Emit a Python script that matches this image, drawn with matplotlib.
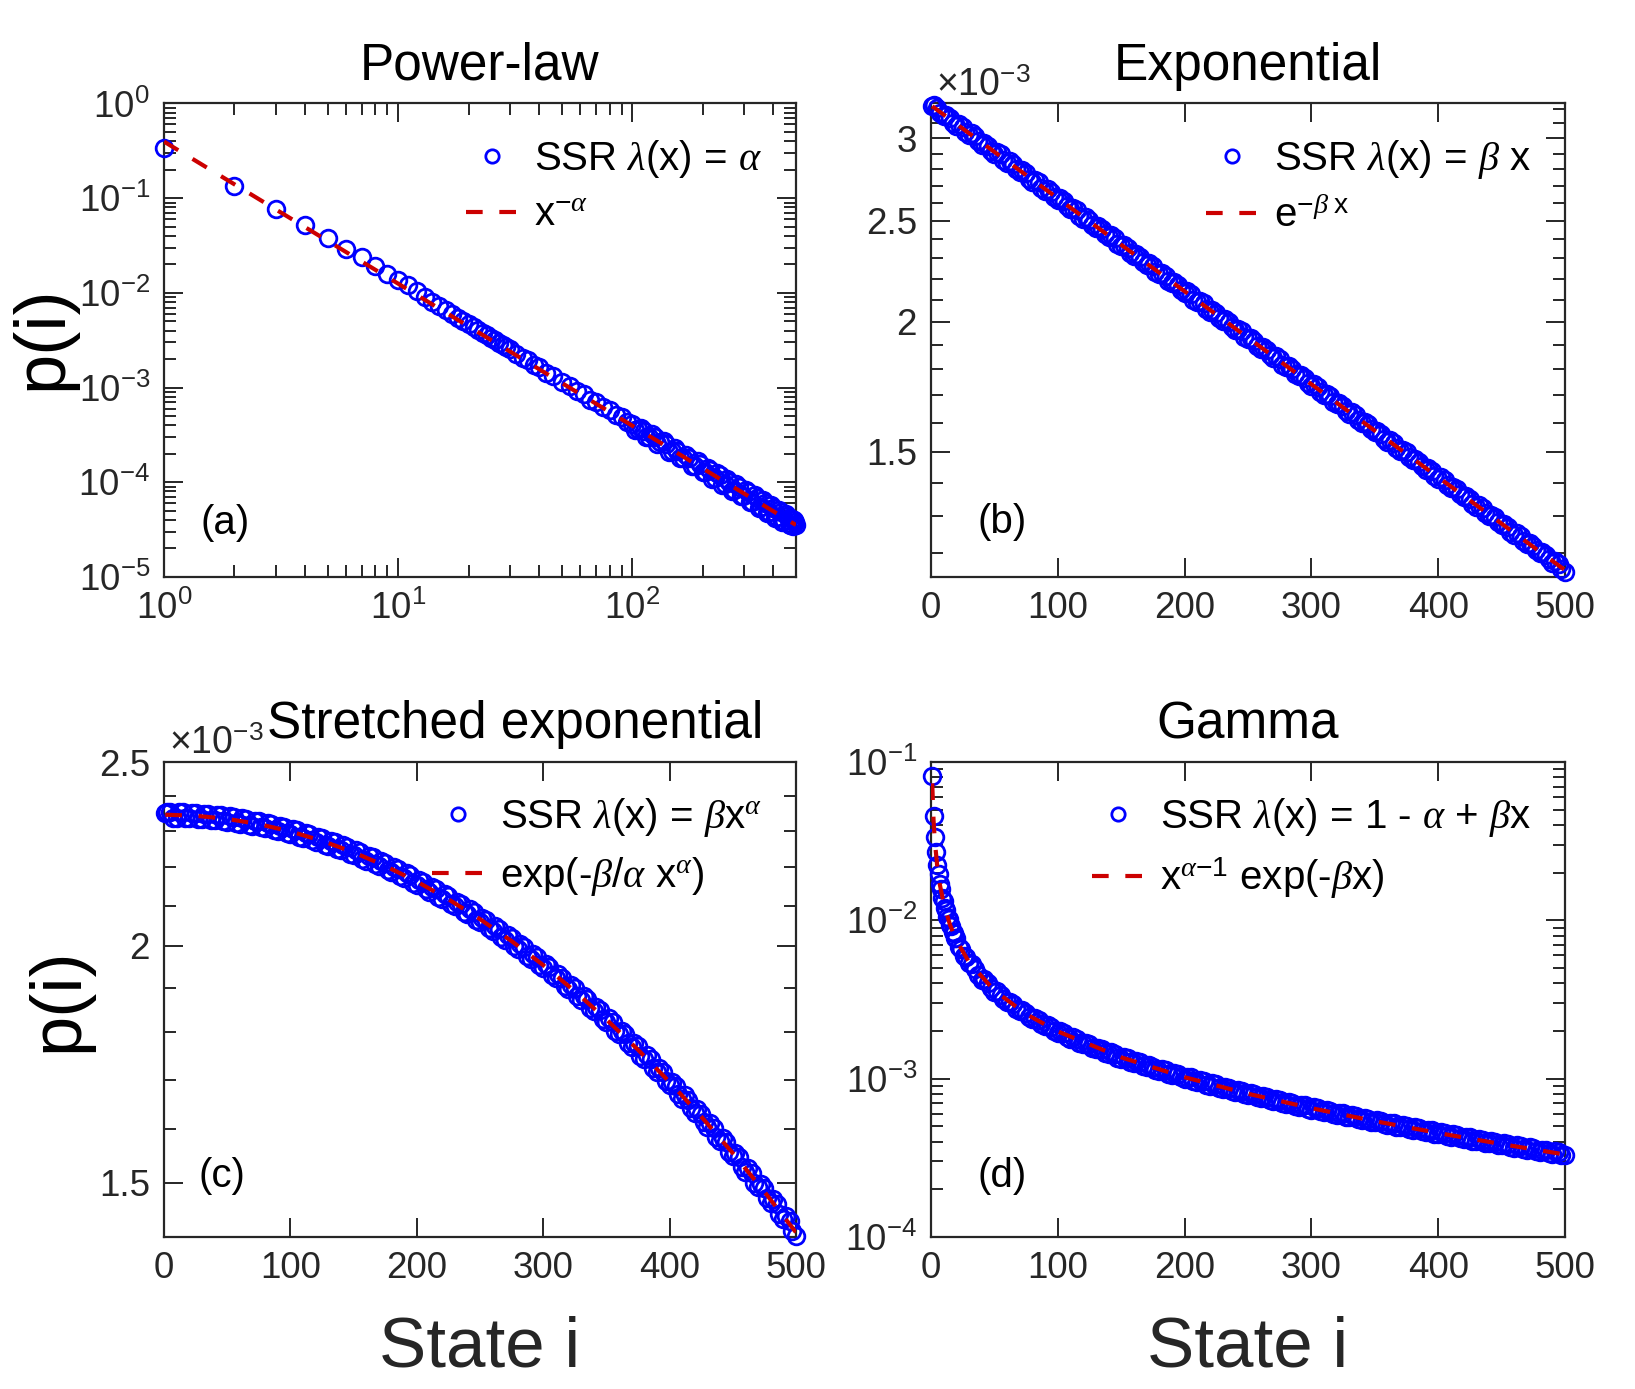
import matplotlib
matplotlib.use("Agg")
import matplotlib.pyplot as plt
from matplotlib.ticker import FixedLocator, FixedFormatter, NullFormatter, LogLocator

plt.rcParams['font.family'] = ['Liberation Sans', 'DejaVu Sans']
plt.rcParams['mathtext.fontset'] = 'custom'
plt.rcParams['mathtext.rm'] = 'Liberation Sans'
plt.rcParams['mathtext.it'] = 'Liberation Serif:italic'
plt.rcParams['mathtext.bf'] = 'Liberation Sans:bold'

# ---- (a) power law: SSR samples ----
a_x = [1, 2, 3, 4, 5, 6, 7, 8, 9, 10, 11, 12, 13, 14, 15, 16, 17, 18, 19, 20,
       21, 22, 23, 24, 25, 26, 27, 28, 29, 30, 32, 34, 36, 38, 40, 43, 46, 50,
       54, 58, 62, 66, 70, 75, 80, 85, 90, 95, 100, 106, 112, 118, 125, 132,
       140, 148, 156, 165, 175, 185, 195, 205, 215, 225, 236, 248, 260, 272,
       285, 298, 312, 326, 340, 355, 370, 385, 400, 415, 430, 445, 460, 465,
       475, 485, 490, 495, 500]
a_y = [0.336, 0.135, 0.0768, 0.052, 0.0376, 0.029, 0.0237, 0.0193, 0.016, 0.0137,
       0.012, 0.0104, 0.00896, 0.00801, 0.00722, 0.00655, 0.00598, 0.00549, 0.00506, 0.00468,
       0.00435, 0.00405, 0.00379, 0.00356, 0.00334, 0.00315, 0.00298, 0.00282, 0.00267, 0.00254,
       0.00229, 0.00205, 0.00194, 0.00172, 0.00166, 0.00143, 0.00134, 0.00114,
       0.00105, 0.000915, 0.000852, 0.000748, 0.000708, 0.000618, 0.000578, 0.000510, 0.000486,
       0.000432, 0.000411, 0.000366, 0.000352, 0.000304, 0.000301, 0.000266,
       0.000252, 0.000212, 0.000216, 0.000181, 0.000182, 0.000150, 0.000156, 0.000128,
       0.000134, 0.000111, 0.000118, 9.55e-5, 1.01e-4, 8.30e-5,
       8.89e-5, 7.20e-5, 7.82e-5, 6.25e-5, 6.83e-5, 5.45e-5, 6.01e-5, 4.86e-5, 5.38e-5, 4.32e-5,
       4.84e-5, 3.90e-5, 4.36e-5, 4.19e-5,
       3.57e-5, 3.45e-5, 3.98e-5, 3.85e-5, 3.50e-5]
# more samples in the crowded tail
a_x2 = [103, 109, 115, 121, 128, 136, 144, 152, 160, 170, 180, 190, 200, 210, 220, 230,
        242, 254, 266, 278, 291, 305, 319, 333, 347, 362, 377, 392, 407, 422, 437, 452,
        470, 480]
a_y2 = [3.56e-4, 3.72e-4, 2.99e-4, 3.21e-4, 2.54e-4, 2.70e-4, 2.11e-4, 2.30e-4, 1.80e-4,
        1.95e-4, 1.49e-4, 1.66e-4, 1.27e-4, 1.43e-4, 1.09e-4, 1.25e-4,
        9.47e-5, 1.086e-4, 8.12e-5, 9.48e-5, 7.10e-5, 8.25e-5, 6.19e-5, 7.30e-5, 5.39e-5,
        6.44e-5, 4.76e-5, 5.71e-5, 4.24e-5, 5.12e-5, 3.81e-5, 4.62e-5, 3.50e-5, 4.14e-5]
a_fit_x = [1, 500]
a_fit_y = [0.396, 3.542e-5]

# ---- (b) exponential (values in units of 1e-3) ----
b_x = [1] + list(range(5, 501, 5))
b_y = [3.220,
       3.206, 3.149, 3.139, 3.081, 3.079, 3.024, 3.015, 2.958, 2.951, 2.900,
       2.895, 2.841, 2.835, 2.783, 2.777, 2.725, 2.722, 2.672, 2.665, 2.616,
       2.611, 2.563, 2.558, 2.511, 2.506, 2.460, 2.455, 2.410, 2.404, 2.362,
       2.356, 2.314, 2.308, 2.266, 2.261, 2.220, 2.214, 2.176, 2.169, 2.131,
       2.125, 2.088, 2.082, 2.045, 2.040, 2.003, 1.998, 1.963, 1.957, 1.923,
       1.917, 1.884, 1.879, 1.845, 1.840, 1.808, 1.802, 1.772, 1.766, 1.736,
       1.730, 1.700, 1.695, 1.666, 1.660, 1.631, 1.627, 1.598, 1.594, 1.566,
       1.560, 1.534, 1.529, 1.503, 1.498, 1.472, 1.467, 1.442, 1.438, 1.413,
       1.408, 1.384, 1.380, 1.356, 1.352, 1.328, 1.324, 1.301, 1.297, 1.275,
       1.270, 1.249, 1.245, 1.224, 1.219, 1.199, 1.194, 1.174, 1.170, 1.150]
b_x2 = list(range(2, 501, 5))
b_y2 = [3.226, 3.169, 3.160, 3.104, 3.096, 3.041, 3.033, 2.979, 2.971, 2.919,
        2.911, 2.859, 2.852, 2.800, 2.794, 2.744, 2.737, 2.688, 2.681, 2.633,
        2.627, 2.580, 2.573, 2.527, 2.521, 2.476, 2.470, 2.425, 2.420, 2.376,
        2.370, 2.328, 2.322, 2.281, 2.275, 2.234, 2.228, 2.189, 2.183, 2.144,
        2.138, 2.100, 2.095, 2.058, 2.052, 2.016, 2.010, 1.975, 1.969, 1.935,
        1.929, 1.896, 1.890, 1.857, 1.852, 1.819, 1.814, 1.782, 1.777, 1.746,
        1.741, 1.711, 1.705, 1.676, 1.671, 1.642, 1.637, 1.608, 1.603, 1.576,
        1.571, 1.544, 1.538, 1.513, 1.507, 1.482, 1.476, 1.452, 1.446, 1.422,
        1.417, 1.393, 1.388, 1.365, 1.360, 1.337, 1.332, 1.310, 1.305, 1.283,
        1.278, 1.257, 1.252, 1.232, 1.227, 1.206, 1.202, 1.182, 1.177, 1.158]
b_fit_x = [1, 500]
b_fit_y = [3.220, 1.1543]

# ---- (c) stretched exponential (units of 1e-3) ----
c_x = [1] + list(range(5, 501, 5))
c_y = [2.350,
       2.352, 2.337, 2.352, 2.335, 2.350, 2.333, 2.347, 2.329, 2.343, 2.325,
       2.339, 2.320, 2.333, 2.314, 2.326, 2.307, 2.319, 2.299, 2.310, 2.290,
       2.301, 2.280, 2.291, 2.269, 2.280, 2.258, 2.268, 2.246, 2.255, 2.232,
       2.241, 2.218, 2.227, 2.203, 2.212, 2.188, 2.196, 2.171, 2.179, 2.154,
       2.161, 2.136, 2.143, 2.118, 2.124, 2.098, 2.104, 2.078, 2.084, 2.058,
       2.063, 2.036, 2.042, 2.015, 2.019, 1.992, 1.997, 1.969, 1.973, 1.946,
       1.949, 1.922, 1.924, 1.898, 1.900, 1.873, 1.874, 1.848, 1.849, 1.822,
       1.823, 1.796, 1.797, 1.769, 1.770, 1.742, 1.743, 1.715, 1.716, 1.689,
       1.687, 1.661, 1.659, 1.633, 1.631, 1.605, 1.603, 1.577, 1.575, 1.549,
       1.547, 1.520, 1.518, 1.492, 1.490, 1.463, 1.461, 1.435, 1.432, 1.406]
c_x2 = list(range(2, 501, 5))
c_y2 = [2.353, 2.337, 2.352, 2.336, 2.351, 2.334, 2.348, 2.331, 2.345, 2.327,
        2.340, 2.322, 2.335, 2.316, 2.328, 2.309, 2.321, 2.301, 2.313, 2.293,
        2.304, 2.283, 2.294, 2.273, 2.283, 2.261, 2.271, 2.249, 2.259, 2.236,
        2.246, 2.223, 2.231, 2.208, 2.216, 2.193, 2.201, 2.176, 2.184, 2.159,
        2.167, 2.142, 2.149, 2.123, 2.130, 2.104, 2.110, 2.084, 2.090, 2.064,
        2.069, 2.043, 2.048, 2.021, 2.026, 1.999, 2.003, 1.976, 1.980, 1.953,
        1.956, 1.930, 1.932, 1.905, 1.907, 1.881, 1.882, 1.855, 1.857, 1.830,
        1.831, 1.804, 1.804, 1.777, 1.778, 1.750, 1.751, 1.723, 1.724, 1.696,
        1.695, 1.670, 1.668, 1.642, 1.640, 1.614, 1.612, 1.586, 1.584, 1.557,
        1.555, 1.529, 1.527, 1.500, 1.498, 1.472, 1.470, 1.443, 1.441, 1.415]
c_fit_x = [1] + list(range(25, 501, 25))
c_fit_y = [2.345, 2.3420, 2.3331, 2.3184, 2.2979, 2.2718, 2.2403, 2.2037, 2.1622,
           2.1161, 2.0657, 2.0114, 1.9536, 1.8926, 1.8288, 1.7628, 1.6949, 1.6254,
           1.5548, 1.4836, 1.4121]

# ---- (d) gamma ----
d_x = list(range(1, 21)) + [22, 24, 26, 28, 30] + list(range(35, 501, 5))
d_y = [0.081, 0.0457, 0.0335, 0.0269, 0.0225, 0.0195, 0.0169, 0.0158, 0.0139, 0.0133,
       0.0119, 0.01158, 0.01046, 0.01018, 0.00935, 0.00918, 0.00842, 0.00838, 0.00772, 0.00772,
       0.00682, 0.00662, 0.00598, 0.00587, 0.00534,
       0.00491, 0.00423, 0.00400, 0.00353, 0.00339, 0.00303, 0.00295, 0.00266, 0.00261, 0.00237,
       0.00234, 0.00214, 0.00212, 0.00195, 0.00194, 0.00179, 0.00179, 0.00165, 0.00165, 0.00153,
       0.00154, 0.00143, 0.00144, 0.00134, 0.00135, 0.00126, 0.00127, 0.00118, 0.00119, 0.00112,
       0.00113, 0.00106, 0.00107, 0.00100, 0.00102, 0.000951, 0.000966, 0.000905, 0.000920, 0.000863,
       0.000877, 0.000824, 0.000838, 0.000787, 0.000802, 0.000754, 0.000768, 0.000722, 0.000736, 0.000692,
       0.000706, 0.000665, 0.000678, 0.000638, 0.000652, 0.000614, 0.000627, 0.000591, 0.000604, 0.000569,
       0.000581, 0.000548, 0.000560, 0.000529, 0.000541, 0.000510, 0.000522, 0.000493, 0.000504, 0.000476,
       0.000487, 0.000460, 0.000471, 0.000445, 0.000455, 0.000430, 0.000441, 0.000417, 0.000427, 0.000403,
       0.000413, 0.000391, 0.000400, 0.000379, 0.000388, 0.000367, 0.000376, 0.000356, 0.000365, 0.000345,
       0.000354, 0.000335, 0.000344, 0.000329]
d_x2 = list(range(32, 501, 5))
d_y2 = [0.00530, 0.00452, 0.00425, 0.00372, 0.00356, 0.00317, 0.00307, 0.00277, 0.00271, 0.00245,
        0.00242, 0.00221, 0.00219, 0.00200, 0.00199, 0.00183, 0.00183, 0.00169, 0.00169, 0.00157,
        0.00157, 0.00146, 0.00147, 0.00136, 0.00137, 0.00128, 0.00129, 0.00120, 0.00122, 0.00114,
        0.00115, 0.00107, 0.00109, 0.00102, 0.00103, 0.000966, 0.000980, 0.000919, 0.000933, 0.000875,
        0.000890, 0.000835, 0.000850, 0.000798, 0.000812, 0.000764, 0.000778, 0.000731, 0.000745, 0.000701,
        0.000715, 0.000673, 0.000686, 0.000646, 0.000659, 0.000621, 0.000634, 0.000598, 0.000610, 0.000576,
        0.000588, 0.000554, 0.000567, 0.000535, 0.000547, 0.000516, 0.000527, 0.000498, 0.000509, 0.000481,
        0.000492, 0.000465, 0.000476, 0.000449, 0.000460, 0.000435, 0.000445, 0.000421, 0.000431, 0.000407,
        0.000417, 0.000395, 0.000404, 0.000382, 0.000392, 0.000371, 0.000380, 0.000359, 0.000368, 0.000349,
        0.000357, 0.000338, 0.000347, 0.000328]
d_fit_x = [1, 2, 3, 5, 7, 10, 15, 20, 30, 50, 75, 100, 150, 200, 250, 300, 350, 400, 450, 500]
d_fit_y = [0.0733, 0.04345, 0.03198, 0.02172, 0.016815, 0.012805, 0.00937, 0.007493, 0.005444,
           0.003602, 0.00256, 0.001989, 0.001364, 0.001022, 8.034e-4, 6.515e-4, 5.397e-4,
           4.539e-4, 3.864e-4, 3.32e-4]

titles = ['Power-law', 'Exponential', 'Stretched exponential', 'Gamma']
ssr_labels = [r'SSR $\lambda$(x) = $\alpha$',
              r'SSR $\lambda$(x) = $\beta$ x',
              r'SSR $\lambda$(x) = $\beta$x$^{\alpha}$',
              r'SSR $\lambda$(x) = 1 - $\alpha$ + $\beta$x']
fit_labels = [r'x$^{-\alpha}$',
              r'e$^{-\beta\ \mathrm{x}}$',
              r'exp(-$\beta$/$\alpha$ x$^{\alpha}$)',
              r'x$^{\alpha\mathrm{-1}}$ exp(-$\beta$x)']
panel_tags = ['(a)', '(b)', '(c)', '(d)']

dark = '#262626'
fig = plt.figure(figsize=(16.35, 13.89), dpi=100)
ax_a = fig.add_axes([0.1003, 0.5846, 0.3865, 0.3409])
ax_b = fig.add_axes([0.5694, 0.5846, 0.3878, 0.3409])
ax_c = fig.add_axes([0.1003, 0.1094, 0.3865, 0.3420])
ax_d = fig.add_axes([0.5694, 0.1094, 0.3878, 0.3420])
axes = [ax_a, ax_b, ax_c, ax_d]

scale = [1.0, 1e-3, 1e-3, 1.0]
data = [(a_x + a_x2, a_y + a_y2, a_fit_x, a_fit_y),
        (b_x + b_x2, b_y + b_y2, b_fit_x, b_fit_y),
        (c_x + c_x2, c_y + c_y2, c_fit_x, c_fit_y),
        (d_x + d_x2, d_y + d_y2, d_fit_x, d_fit_y)]

for i, ax in enumerate(axes):
    x, y, fx, fy = data[i]
    s = scale[i]
    ax.plot(x, [v * s for v in y], 'o', mfc='none', mec='#0000ff', ms=12, mew=2.0,
            clip_on=False, zorder=3, label=ssr_labels[i])
    ax.plot(fx, [v * s for v in fy], color='#cc0000', lw=3, ls=(0, (4, 4)),
            zorder=4, label=fit_labels[i])
    ax.set_yscale('log')
    for sp in ax.spines.values():
        sp.set_color(dark)
        sp.set_linewidth(1.6)
    ax.tick_params(which='both', direction='in', top=True, right=True,
                   color=dark, labelcolor=dark, width=1.4)
    ax.tick_params(which='major', length=14, pad=10, labelsize=26.5)
    ax.tick_params(which='minor', length=8.5)
    ax.set_title(titles[i], fontsize=37, pad=17)
    leg = ax.legend(loc='upper right', frameon=False, fontsize=29, handlelength=1.3,
                    handletextpad=0.38, labelspacing=0.4, borderaxespad=0.45,
                    markerscale=0.8)
    for t in leg.get_texts():
        t.set_color('black')

# panel (a)
ax_a.set_xscale('log')
ax_a.set_xlim(1, 500)
ax_a.set_ylim(1e-5, 1)
ax_a.yaxis.set_major_locator(LogLocator(base=10, numticks=10))
ax_a.yaxis.set_minor_locator(LogLocator(base=10, subs=range(2, 10), numticks=20))
ax_a.xaxis.set_minor_locator(LogLocator(base=10, subs=range(2, 10), numticks=20))
ax_a.xaxis.set_minor_formatter(NullFormatter())
ax_a.yaxis.set_minor_formatter(NullFormatter())

# panels with linear x
for ax in (ax_b, ax_c, ax_d):
    ax.set_xlim(0, 500)
    ax.set_xticks(range(0, 501, 100))
    ax.xaxis.set_minor_locator(FixedLocator([]))

# panel (b)
ax_b.set_ylim(1.137e-3, 3.24e-3)
b_major = [1.5, 2, 2.5, 3]
ax_b.yaxis.set_major_locator(FixedLocator([v * 1e-3 for v in b_major]))
ax_b.yaxis.set_major_formatter(FixedFormatter(['1.5', '2', '2.5', '3']))
b_minor = [1.2, 1.3, 1.4, 1.6, 1.7, 1.8, 1.9, 2.1, 2.2, 2.3, 2.4, 2.6, 2.7, 2.8, 2.9, 3.1, 3.2]
ax_b.yaxis.set_minor_locator(FixedLocator([v * 1e-3 for v in b_minor]))
ax_b.yaxis.set_minor_formatter(NullFormatter())

# panel (c)
ax_c.set_ylim(1.404e-3, 2.5e-3)
c_major = [1.5, 2, 2.5]
ax_c.yaxis.set_major_locator(FixedLocator([v * 1e-3 for v in c_major]))
ax_c.yaxis.set_major_formatter(FixedFormatter(['1.5', '2', '2.5']))
c_minor = [1.6, 1.7, 1.8, 1.9, 2.1, 2.2, 2.3, 2.4]
ax_c.yaxis.set_minor_locator(FixedLocator([v * 1e-3 for v in c_minor]))
ax_c.yaxis.set_minor_formatter(NullFormatter())
ax_c.title.set_x(0.555)

# panel (d)
ax_d.set_ylim(1e-4, 1e-1)
ax_d.yaxis.set_minor_locator(LogLocator(base=10, subs=range(2, 10), numticks=20))
ax_d.yaxis.set_minor_formatter(NullFormatter())

# exponent labels
for ax in (ax_b, ax_c):
    ax.text(0.008, 1.016, r'$\times$10$^{-3}$', transform=ax.transAxes,
            fontsize=27, ha='left', va='baseline', color=dark)

# panel tags
tag_pos = [(0.057, 0.114), (0.074, 0.116), (0.055, 0.128), (0.074, 0.128)]
for ax, tag, (tx, ty) in zip(axes, panel_tags, tag_pos):
    ax.text(tx, ty, tag, transform=ax.transAxes, fontsize=29, ha='left', va='center')

# axis labels
fig.text(0.026, 0.757, 'p(i)', rotation=90, fontsize=52, ha='center', va='center')
fig.text(0.036, 0.280, 'p(i)', rotation=90, fontsize=52, ha='center', va='center')
fig.text(0.2936, 0.0295, 'State i', fontsize=51, ha='center', va='center', color=dark)
fig.text(0.763, 0.0295, 'State i', fontsize=51, ha='center', va='center', color=dark)

fig.savefig('out.png', dpi=100)
